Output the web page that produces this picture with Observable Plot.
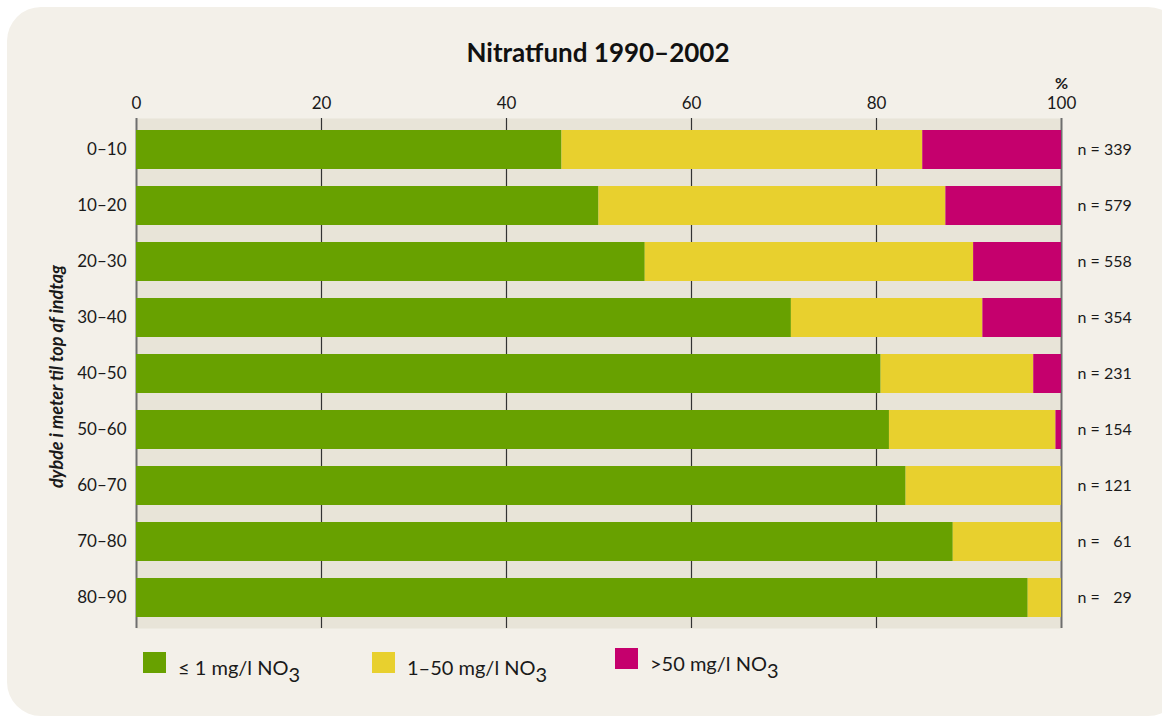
<!DOCTYPE html>
<html>
<head>
<meta charset="utf-8">
<script src="https://cdn.jsdelivr.net/npm/d3@7"></script>
<script src="https://cdn.jsdelivr.net/npm/@observablehq/plot@0.6"></script>
<style>
  html, body { margin:0; padding:0; background:#ffffff; overflow:hidden; width:1162px; height:717px; }
  body { font-family: Lato, "Open Sans", sans-serif; color:#1a1a1a; position:relative; }
  #panel { position:absolute; left:7px; top:7px; width:1175px; height:709px; background:#f3f0e9; border-radius:34px; }
  #chart { position:absolute; left:0; top:0; }
  #title { position:absolute; left:0; width:1196px; top:37px; text-align:center; font-size:26px; font-weight:bold; line-height:30px; color:#111; }
  .leg { position:absolute; font-size:20px; line-height:24px; color:#1a1a1a; white-space:nowrap; }
  .sw { position:absolute; width:23px; height:21px; }
  .leg sub { font-size:20px; vertical-align:-7px; line-height:0; }
</style>
</head>
<body>
<div id="panel"></div>
<div id="chart"></div>
<div id="title">Nitratfund 1990–2002</div>
<div id="legend"></div>
<script>
const depths = ["0–10", "10–20", "20–30", "30–40", "40–50", "50–60", "60–70", "70–80", "80–90"];
const lowShare  = [46, 50, 55, 70.8, 80.5, 81.4, 83.2, 88.3, 96.4];
const midShare  = [39, 37.5, 35.5, 20.7, 16.5, 18.0, 16.8, 11.7, 3.6];
const highShare = [15, 12.5, 9.5, 8.5, 3.0, 0.6, 0, 0, 0];
const counts = [339, 579, 558, 354, 231, 154, 121, 61, 29];
const classes = ["≤ 1 mg/l NO3", "1–50 mg/l NO3", ">50 mg/l NO3"];
const colors = ["#68a100", "#e8d02e", "#c5006d"];
const xTicks = [0, 20, 40, 60, 80, 100];
const yTitle = "dybde i meter til top af indtag";

const rows = [];
[lowShare, midShare, highShare].forEach((arr, k) => {
  arr.forEach((v, i) => rows.push({depth: depths[i], cls: classes[k], value: v}));
});

const nLabel = c => c < 100 ? "n = \u2007" + c : "n = " + c;

const chart = Plot.plot({
  width: 1162,
  height: 640,
  marginLeft: 136,
  marginRight: 101,
  marginTop: 118,
  marginBottom: 12,
  style: {background: "transparent", fontFamily: "Lato, 'Open Sans', sans-serif", fontSize: "17px", color: "#1a1a1a", overflow: "visible"},
  x: {domain: [0, 100], axis: "top", ticks: xTicks, tickSize: 0, tickPadding: 10, label: null},
  y: {domain: depths, paddingInner: 0.31, paddingOuter: 0.18, tickSize: 0, tickPadding: 10, label: null},
  color: {domain: classes, range: colors},
  marks: [
    Plot.frame({fill: "#e8e4d8", stroke: null}),
    Plot.ruleX(xTicks.filter(t => t > 0 && t < 100), {stroke: "#333", strokeWidth: 1.2}),
    Plot.ruleX([0, 100], {stroke: "#6e6e6e", strokeWidth: 2}),
    Plot.barX(rows, {x: "value", y: "depth", fill: "cls"}),
    Plot.text(depths, {x: () => 100, y: d => d, text: (d, i) => nLabel(counts[i]), dx: 16, textAnchor: "start", fontSize: 16}),
    Plot.text(["%"], {x: () => 100, frameAnchor: "top", dy: -41, text: d => d, fontSize: 16, fontWeight: "bold"}),
    Plot.text([yTitle], {frameAnchor: "left", dx: -79, dy: 3, rotate: -90, textAnchor: "middle", text: d => d, fontStyle: "italic", fontWeight: "bold", fontSize: 18})
  ]
});
document.getElementById("chart").appendChild(chart);

const legend = document.getElementById("legend");
const legPos = [
  {sx: 143, sy: 652, tx: 178, ty: 655},
  {sx: 372, sy: 652, tx: 407, ty: 655},
  {sx: 615, sy: 648, tx: 650, ty: 651}
];
classes.forEach((c, k) => {
  const p = legPos[k];
  const sw = document.createElement("div");
  sw.className = "sw";
  sw.style.left = p.sx + "px"; sw.style.top = p.sy + "px"; sw.style.background = colors[k];
  legend.appendChild(sw);
  const t = document.createElement("div");
  t.className = "leg";
  t.style.left = p.tx + "px"; t.style.top = p.ty + "px";
  t.innerHTML = c.replace("NO3", "NO<sub>3</sub>");
  legend.appendChild(t);
});
</script>
</body>
</html>
